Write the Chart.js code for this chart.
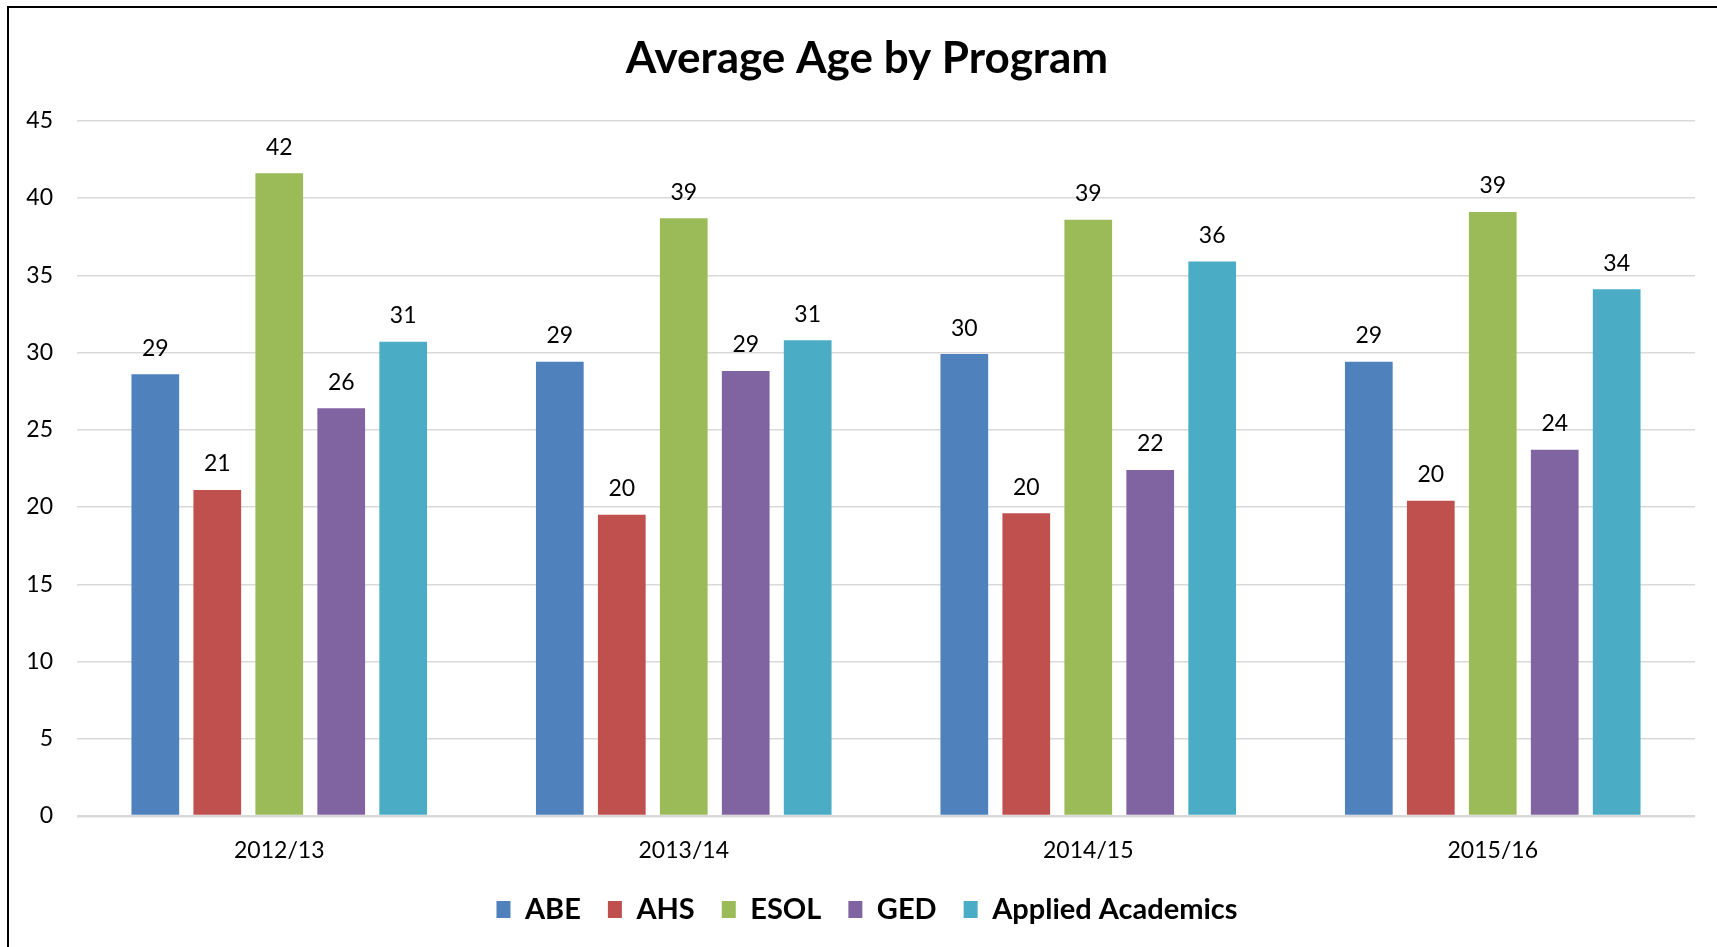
<!DOCTYPE html>
<html lang="en">
<head>
    <meta charset="UTF-8">
    <title>Average Age by Program</title>
    <script src="https://cdn.jsdelivr.net/npm/chart.js"></script>
    <style>
        html, body {
            margin: 0;
            padding: 0;
            overflow: hidden;
            background: #fff;
        }
        .frame {
            position: absolute;
            left: 7px;
            top: 6px;
            width: 1716px;
            height: 960px;
            border: 2px solid #000;
        }
        canvas {
            display: block;
        }
    </style>
</head>
<body>
    <div class="frame">
        <canvas id="ageChart" width="1716" height="926"></canvas>
    </div>

    <script>
        const years = ["2012/13", "2013/14", "2014/15", "2015/16"];
        const abe = [28.6, 29.4, 29.9, 29.4];
        const ahs = [21.1, 19.5, 19.6, 20.4];
        const esol = [41.6, 38.7, 38.6, 39.1];
        const ged = [26.4, 28.8, 22.4, 23.7];
        const appliedAcademics = [30.7, 30.8, 35.9, 34.1];
        const yTicks = [0, 5, 10, 15, 20, 25, 30, 35, 40, 45];

        const fontFamily = "Lato, 'Liberation Sans', sans-serif";

        // value labels above each bar, rounded like the original
        const barLabels = {
            id: "barLabels",
            afterDatasetsDraw(chart) {
                const ctx = chart.ctx;
                ctx.save();
                ctx.font = "23px " + fontFamily;
                ctx.fillStyle = "#000";
                ctx.textAlign = "center";
                ctx.textBaseline = "middle";
                chart.data.datasets.forEach((ds, i) => {
                    chart.getDatasetMeta(i).data.forEach((bar, j) => {
                        ctx.fillText(Math.round(ds.data[j]), bar.x, bar.y - 26);
                    });
                });
                ctx.restore();
            }
        };

        const ctx = document.getElementById("ageChart").getContext("2d");
        new Chart(ctx, {
            type: "bar",
            data: {
                labels: years,
                datasets: [
                    { label: "ABE", data: abe, backgroundColor: "#4F81BD" },
                    { label: "AHS", data: ahs, backgroundColor: "#C0504D" },
                    { label: "ESOL", data: esol, backgroundColor: "#9BBB59" },
                    { label: "GED", data: ged, backgroundColor: "#8064A2" },
                    { label: "Applied Academics", data: appliedAcademics, backgroundColor: "#4BACC6" }
                ]
            },
            options: {
                responsive: false,
                animation: false,
                categoryPercentage: 0.766,
                barPercentage: 0.77,
                layout: { padding: { left: 10, right: 10, top: 0, bottom: 0 } },
                plugins: {
                    title: {
                        display: true,
                        text: "Average Age by Program",
                        color: "#000",
                        font: { family: fontFamily, size: 44, weight: "bold" },
                        padding: { top: 24, bottom: 36 }
                    },
                    legend: {
                        position: "bottom",
                        labels: {
                            color: "#000",
                            font: { family: fontFamily, size: 29, weight: "bold", lineHeight: 0.8 },
                            boxWidth: 14,
                            boxHeight: 17,
                            padding: 27
                        }
                    },
                    tooltip: { enabled: false }
                },
                scales: {
                    x: {
                        afterFit: scale => { scale.height = 52; },
                        grid: { display: false, drawTicks: false },
                        border: { display: false },
                        ticks: {
                            color: "#000",
                            padding: 21,
                            font: { family: fontFamily, size: 23 }
                        }
                    },
                    y: {
                        min: 0,
                        max: 45,
                        afterFit: scale => { scale.width = 58; },
                        afterBuildTicks: axis => {
                            axis.ticks = yTicks.map(v => ({ value: v }));
                        },
                        grid: {
                            color: "#d9d9d9",
                            lineWidth: c => (c.tick && c.tick.value === 0 ? 2.5 : 1.5),
                            drawTicks: false
                        },
                        border: { display: false },
                        ticks: {
                            color: "#000",
                            padding: 24,
                            font: { family: fontFamily, size: 23 }
                        }
                    },
                    // empty strip on the right so the plot ends short of the frame
                    yRight: {
                        position: "right",
                        afterFit: scale => { scale.width = 20; },
                        grid: { display: false, drawTicks: false },
                        border: { display: false },
                        ticks: { display: false }
                    }
                }
            },
            plugins: [barLabels]
        });
    </script>
</body>
</html>
